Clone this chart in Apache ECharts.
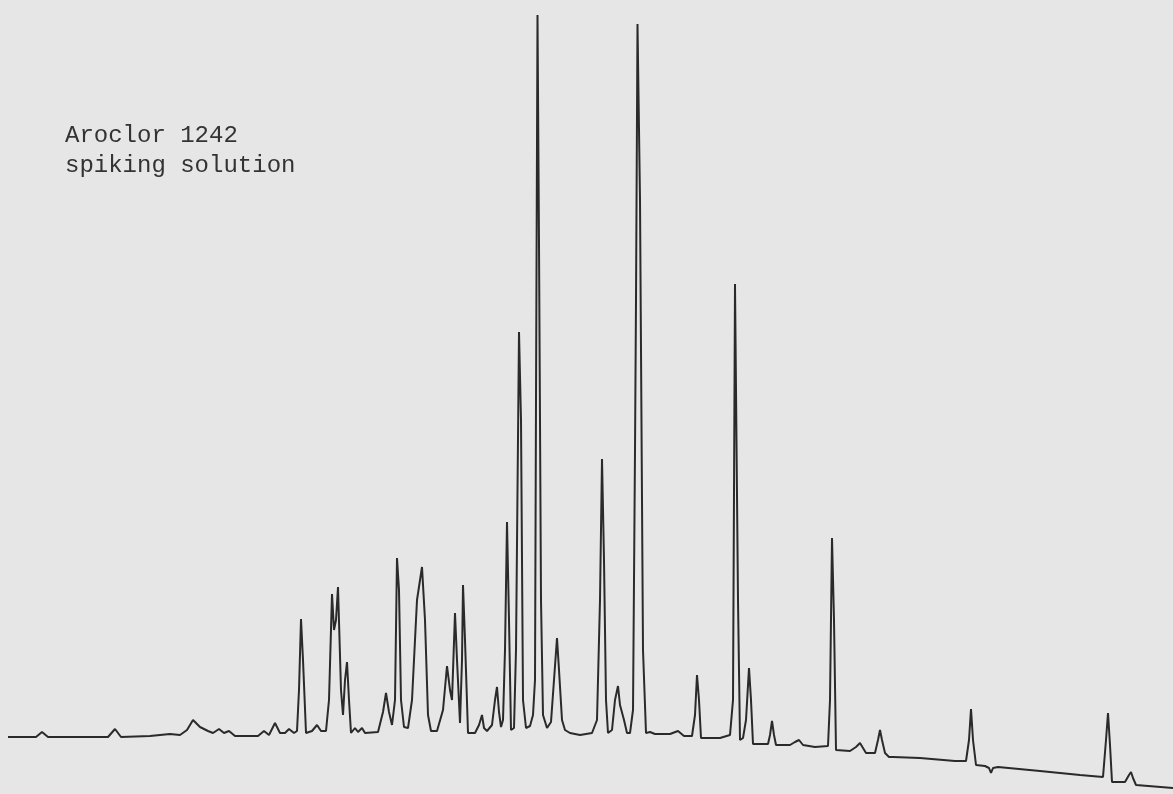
<!DOCTYPE html>
<html>
<head>
<meta charset="utf-8">
<script src="https://cdn.jsdelivr.net/npm/echarts@6/dist/echarts.min.js"></script>
<style>
  html, body { margin: 0; padding: 0; background: #e6e6e6; }
  #chart { width: 1173px; height: 794px; }
</style>
</head>
<body>
<div id="chart"></div>
<script>
// chromatogram trace: [retention, detector response]
var earlyTrace = [
  [8, 57], [36, 57], [42, 62], [48, 57], [108, 57], [115, 65], [121, 57],
  [150, 58], [170, 60], [180, 59], [187, 64], [193, 74], [200, 67], [208, 63],
  [213, 61], [219, 65], [224, 61], [229, 63], [235, 58], [258, 58], [264, 63],
  [269, 59], [275, 71], [280, 61], [285, 61], [289, 65], [294, 61], [297, 63],
  [299, 104], [301, 175], [303, 134], [306, 61], [312, 63], [317, 69], [321, 63],
  [326, 63], [329, 94], [332, 200], [334, 164], [336, 174], [338, 207], [341, 104],
  [343, 79], [345, 114], [347, 132], [349, 94], [351, 61], [355, 66], [358, 62],
  [362, 66], [365, 61], [378, 62], [383, 82], [386, 101], [389, 82], [392, 69],
  [395, 94], [397, 236], [399, 204], [401, 94], [404, 67], [408, 66], [412, 94],
  [417, 194], [422, 227], [425, 174], [428, 79], [431, 63], [437, 63], [443, 84],
  [447, 128], [450, 104], [452, 94], [455, 181], [457, 134], [460, 71], [462, 134],
  [463, 209], [465, 154], [468, 61]
];

var mainCluster = [
  [475, 61], [479, 69], [482, 79], [484, 66], [487, 63], [492, 69], [495, 94],
  [497, 107], [499, 82], [501, 67], [503, 74], [505, 144], [507, 272], [509, 174],
  [511, 64], [514, 66], [516, 144], [519, 462], [521, 374], [523, 94], [526, 66],
  [530, 68], [533, 79], [535, 114], [536, 394], [537.5, 779], [539, 549], [541, 194],
  [543, 79], [547, 66], [551, 72], [554, 114], [557, 156], [559, 124], [562, 74],
  [565, 64], [570, 61], [580, 59], [592, 61], [597, 74], [600, 194], [602, 335],
  [604, 234], [606, 94], [608, 61], [612, 64], [615, 94], [618, 108], [620, 89],
  [624, 74], [627, 61], [630, 61], [633, 84], [635, 344], [636, 494], [637.5, 770],
  [640, 594], [643, 144], [646, 61]
];

var lateTrace = [
  [650, 62], [655, 60], [670, 60], [678, 63], [684, 58], [692, 58], [695, 79],
  [697, 119], [699, 94], [701, 56], [720, 56], [730, 59], [733, 94], [735, 510],
  [738, 194], [740, 54], [743, 56], [746, 74], [749, 126], [751, 94], [753, 50],
  [768, 50], [770, 59], [772, 73], [774, 59], [776, 49], [790, 49], [795, 52],
  [799, 54], [803, 49], [815, 47], [828, 48], [830, 94], [832, 256], [834, 174],
  [836, 44], [850, 43], [856, 47], [860, 51], [863, 46], [866, 41], [875, 41],
  [878, 54], [880, 64], [882, 54], [885, 41], [889, 37], [893, 37], [920, 36],
  [955, 33], [966, 33], [969, 54], [971, 85], [973, 54], [976, 29], [985, 28],
  [989, 26], [991, 21], [993, 26], [998, 27], [1040, 23], [1080, 19], [1103, 17],
  [1106, 54], [1108, 81], [1110, 49], [1112, 12], [1125, 12], [1129, 19],
  [1131, 22], [1133, 16], [1136, 9], [1173, 6]
];

var labelLines = ['Aroclor 1242', 'spiking solution'];

var trace = earlyTrace.concat(mainCluster, lateTrace);

var chart = echarts.init(document.getElementById('chart'), null, { renderer: 'canvas' });

var option = {
  backgroundColor: '#e6e6e6',
  animation: false,
  title: {
    text: labelLines.join('\n'),
    left: 60,
    top: 116,
    textStyle: {
      fontFamily: 'Liberation Mono',
      fontSize: 24,
      fontWeight: 'normal',
      lineHeight: 30,
      color: '#333333'
    }
  },
  grid: { left: 0, right: 0, top: 0, bottom: 0 },
  xAxis: {
    type: 'value',
    min: 0,
    max: 1173,
    show: false
  },
  yAxis: {
    type: 'value',
    min: 0,
    max: 794,
    show: false
  },
  series: [
    {
      type: 'line',
      data: trace,
      showSymbol: false,
      smooth: false,
      lineStyle: { color: '#2a2a2a', width: 2 }
    }
  ]
};

chart.setOption(option);
</script>
</body>
</html>
